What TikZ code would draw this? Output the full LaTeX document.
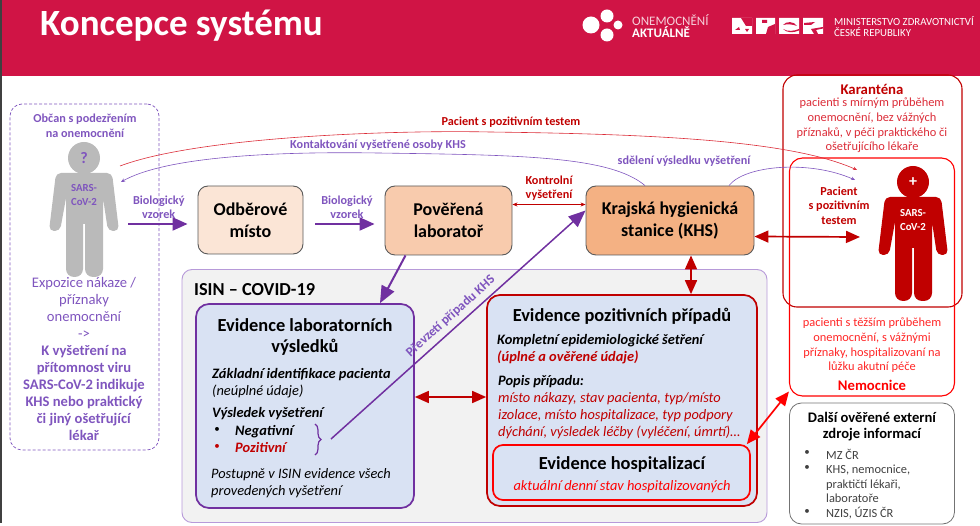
\documentclass[tikz,border=0pt]{standalone}
\usepackage{fontspec}
\setmainfont{Carlito}
\usetikzlibrary{arrows.meta,decorations.pathreplacing}
\definecolor{hdrred}{HTML}{D01445}
\definecolor{purp}{HTML}{7030A0}
\definecolor{softpurp}{HTML}{7F55BE}
\definecolor{lavender}{HTML}{B79AD9}
\definecolor{dkred}{HTML}{C00000}
\definecolor{softred}{HTML}{DB2C38}
\definecolor{brightred}{HTML}{FF0000}
\definecolor{labblue}{HTML}{D9E2F3}
\tikzset{
  person/.pic={
    \fill (0,0) circle (16);
    \fill[rounded corners=5pt] (-18,40) -- (-24,73) -- (-35,73) -- (-28,15) -- (28,15) -- (35,73) -- (24,73) -- (19,40)
      [rounded corners=8pt] -- (19,119) -- (1,119) [sharp corners] -- (1,66) -- (-1,66) [rounded corners=8pt] -- (-1,119) -- (-18,119) [sharp corners] -- cycle;
  }
}
\begin{document}
\begin{tikzpicture}[x=1pt, y=-1pt,
  block/.style={draw=black!65, line width=0.9pt, rounded corners=10pt, align=center, inner sep=0pt, font=\fontsize{18}{21.7}\selectfont\bfseries},
  evbox/.style={fill=labblue, line width=1.7pt, rounded corners=13pt, inner sep=0pt},
  head/.style={font=\fontsize{18.4}{21.5}\selectfont\bfseries, align=center},
  note/.style={font=\fontsize{12.2}{14.7}\selectfont\bfseries, align=center, inner sep=0pt},
  plain/.style={font=\fontsize{14.4}{17}\selectfont\itshape, align=left, anchor=west, inner sep=0pt},
  side/.style={font=\fontsize{12.4}{14.6}\selectfont, align=center, inner sep=0pt},
  dot/.style={font=\fontsize{11}{11}\selectfont, inner sep=0pt},
  bigpurp/.style={-{Triangle[length=15pt,width=13pt]}, line width=2pt, color=purp},
  bigred/.style={{Triangle[length=14pt,width=12pt]}-{Triangle[length=14pt,width=12pt]}, line width=1.7pt, color=dkred},
  thincurve/.style={-{Stealth[length=4pt,width=3.5pt]}, line width=0.6pt}]

  \useasboundingbox (0,0) rectangle (980,526);

  % Header
  \fill[black!75] (0,0) rectangle (1.5,523);
  \fill[hdrred] (1.5,0) rectangle (980,76.5);
  \node[white, anchor=west, inner sep=0pt, font=\fontsize{37}{40}\selectfont\bfseries] (title) at (40,26) {Koncepce systému};

  % Logos
  \fill[white] (591,25) circle (8.5) (607,16) circle (6.5) (618,25) circle (4.5) (607,35) circle (6.5);
  \node[white, anchor=west, align=left, font=\fontsize{13}{12}\selectfont, inner sep=0pt] (oa) at (632,26) {\textcolor{white!80!hdrred}{ONEMOCNĚNÍ}\\\textbf{AKTUÁLNĚ}};
  \fill[white] (732,18) rectangle (752,34) (756,18) rectangle (775,34) (779,18) rectangle (799,34) (803,18) rectangle (823,34);
  \fill[hdrred] (741,18) -- (752,18) -- (752,26) -- (746,26) -- cycle (735,30) -- (739,27) -- (740,30) -- cycle (745,29) -- (749,29) -- (747,32) -- cycle;
  \fill[hdrred] (766,34) -- (768,27) -- (775,24) -- (775,34) -- cycle (762,20) rectangle (767,23);
  \fill[hdrred] (783,25) .. controls (786,21) and (794,21) .. (797,26) .. controls (792,24) and (787,24) .. (783,25) -- cycle (783,29) .. controls (788,32) and (794,31) .. (799,29) -- (799,30.5) .. controls (793,33) and (787,33) .. (783,29) -- cycle;
  \fill[hdrred] (804,23) -- (815,22) -- (811,25) -- (804,25) -- cycle (811,29) -- (823,27) -- (823,28.5) -- (816,30) -- (818,34) -- (814,34) -- cycle;
  \node[white, anchor=west, align=left, font=\fontsize{10.8}{11}\selectfont, inner sep=0pt] (mz) at (834,26.5) {MINISTERSTVO ZDRAVOTNICTVÍ\\ČESKÉ REPUBLIKY};

  % ISIN frame
  \node[draw=lavender, fill=black!5, line width=0.9pt, rounded corners=10pt, minimum width=585pt, minimum height=253pt, inner sep=0pt] (isin) at (474.5,396) {};
  \node[anchor=west, inner sep=0pt, font=\fontsize{18.3}{20}\selectfont\bfseries] (isintitle) at (194,290) {ISIN – COVID-19};

  % Citizen
  \node[draw=softpurp, densely dashed, line width=0.7pt, rounded corners=12pt, minimum width=149pt, minimum height=346pt] (citizen) at (84.5,277) {};
  \node[note, softpurp] (citizentxt) at (85,125.5) {Občan s podezřením\\na onemocnění};
  \pic[black!27] at (84,158) {person};
  \node[softpurp, font=\fontsize{16}{16}\selectfont\bfseries] (qmark) at (84,158) {?};
  \node[softpurp, font=\fontsize{10.8}{14}\selectfont\bfseries, align=center] (sarsA) at (84,195) {SARS-\\CoV-2};
  \node[softpurp, align=center, font=\fontsize{14.6}{16.9}\selectfont] (citizenlow) at (84,359) {Expozice nákaze /\\příznaky\\onemocnění\\->\\\textbf{K vyšetření na}\\\textbf{přítomnost viru}\\\textbf{SARS-CoV-2 indikuje}\\\textbf{KHS nebo praktický}\\\textbf{či jiný ošetřující}\\\textbf{lékař}};

  % First row
  \node[block, fill={rgb,255:red,251;green,229;blue,214}, minimum width=105pt, minimum height=68pt] (odber) at (250.5,220) {Odběrové\\místo};
  \node[block, fill={rgb,255:red,248;green,203;blue,173}, minimum width=127pt, minimum height=69pt] (lab) at (448.5,220.5) {Pověřená\\laboratoř};
  \node[block, fill={rgb,255:red,244;green,177;blue,131}, minimum width=168pt, minimum height=69pt] (khs) at (670,220.5) {Krajská hygienická\\stanice (KHS)};

  % Evidence boxes
  \node[evbox, draw=purp, minimum width=218pt, minimum height=204pt] (labev) at (305,406) {};
  \node[evbox, draw=dkred, minimum width=270pt, minimum height=211pt] (posev) at (622,400.5) {};
  \node[evbox, draw=brightred, minimum width=257pt, minimum height=55pt, rounded corners=10pt] (hosp) at (621.5,472.5) {};

  % Lab evidence text
  \node[head] (labtitle) at (305,337) {Evidence laboratorních\\výsledků};
  \node[plain] (labid) at (212,383) {\textbf{Základní identifikace pacienta}\\(neúplné údaje)};
  \node[plain] (labres) at (212,413.5) {\textbf{Výsledek vyšetření}};
  \node[dot] (dotA) at (217,430) {•};
  \node[plain] (neg) at (235,431.5) {\textbf{Negativní}};
  \node[dot, dkred] (dotB) at (217,447) {•};
  \node[plain, dkred] (pos) at (235,447.5) {\textbf{Pozitivní}};
  \node[plain] (labsum) at (211,483) {Postupně v ISIN evidence všech\\provedených vyšetření};

  % Positive evidence text
  \node[head] (postitle) at (622,316) {Evidence pozitivních případů};
  \node[plain] (posid) at (497,349) {\textbf{Kompletní epidemiologické šetření}\\\textcolor{dkred}{\textbf{(úplné a ověřené údaje)}}};
  \node[plain] (posdesc) at (498,407) {\textbf{Popis případu:}\\\textcolor{dkred}{místo nákazy, stav pacienta, typ/místo}\\\textcolor{dkred}{izolace, místo hospitalizace, typ podpory}\\\textcolor{dkred}{dýchání, výsledek léčby (vyléčení, úmrtí)…}};
  \node[head] (hosptitle) at (622,464.5) {Evidence hospitalizací};
  \node[plain, anchor=center, brightred] (hosptxt) at (622,486.5) {aktuální denní stav hospitalizovaných};

  % Right side
  \node[draw=dkred, line width=1.1pt, rounded corners=14pt, minimum width=179pt, minimum height=232pt] (karant) at (872.5,191) {};
  \node[draw=brightred, line width=1.1pt, rounded corners=13pt, minimum width=165pt, minimum height=238pt] (nem) at (872,277) {};
  \node[dkred, font=\fontsize{14.8}{15}\selectfont\bfseries] (karanttitle) at (872,89) {Karanténa};
  \node[side, softred] (karanttxt) at (872,125.5) {pacienti s mírným průběhem\\onemocnění, bez vážných\\příznaků, v péči praktického či\\ošetřujícího lékaře};
  \node[note, dkred] (pacient) at (839,205.5) {Pacient\\s pozitivním\\testem};
  \pic[dkred] at (913,182) {person};
  \node[white, font=\fontsize{16}{16}\selectfont\bfseries] (plus) at (913,182) {+};
  \node[white, font=\fontsize{10.8}{14}\selectfont\bfseries, align=center] (sarsB) at (913,220) {SARS-\\CoV-2};
  \node[side, brightred!85!white] (nemtxt) at (872,345.5) {pacienti s těžším průběhem\\onemocnění, s vážnými\\příznaky, hospitalizovaní na\\lůžku akutní péče};
  \node[brightred, font=\fontsize{14.7}{15}\selectfont\bfseries] (nemtitle) at (872,385) {Nemocnice};

  % External sources
  \node[draw=black!55, line width=0.8pt, rounded corners=12pt, minimum width=165pt, minimum height=121pt] (ext) at (872,463.5) {};
  \node[font=\fontsize{14.6}{16}\selectfont\bfseries, align=center, inner sep=0pt] (exttitle) at (872,427) {Další ověřené externí\\zdroje informací};
  \node[black!75, anchor=west, align=left, font=\fontsize{12.4}{14.5}\selectfont, inner sep=0pt] (extlist) at (826,484) {MZ ČR\\KHS, nemocnice,\\praktičtí lékaři,\\laboratoře\\NZIS, ÚZIS ČR};
  \node[dot, black!75] (extA) at (807,453) {•};
  \node[dot, black!75] (extB) at (807,468) {•};
  \node[dot, black!75] (extC) at (807,512) {•};

  % Free ends
  \coordinate (grayredend) at (120,166);
  \coordinate (graypurpend) at (121,182);
  \coordinate (redtip) at (857,170);
  \coordinate (purptip) at (855,180);
  \coordinate (grayarm) at (128,224);
  \coordinate (redarm) at (860,237);
  \coordinate (brtop) at (315,424);
  \coordinate (brbot) at (315,455);
  \coordinate (brmid) at (331,439);

  % Purple arrows
  \draw[bigpurp, shorten >=10pt] (grayarm) -- (grayarm -| odber.west) node[midway, note, above=4pt, xshift=-4pt, text=softpurp] (bioA) {Biologický\\vzorek};
  \draw[bigpurp, shorten >=10pt] ([xshift=12pt,yshift=-4pt]odber.east) -- ([yshift=-3.5pt]lab.west) node[midway, note, above=4pt, xshift=-3pt, text=softpurp] (bioB) {Biologický\\vzorek};
  \draw[bigpurp, -{Triangle[length=17pt,width=14pt]}] ([xshift=-43pt]lab.south) -- ([xshift=75pt]labev.north);
  \draw[bigpurp, -{Triangle[length=17pt,width=14pt]}, line width=1.5pt] (brmid) -- ([yshift=10pt]khs.west) node[midway, sloped, above=4pt, text=softpurp, font=\fontsize{13.2}{14}\selectfont\bfseries, inner sep=1pt] (prevzeti) {Převzetí případu KHS};
  \draw[purp, line width=1.2pt, decorate, decoration={brace, amplitude=6pt}] (brtop) -- (brbot);

  % Red arrows
  \draw[{Stealth[length=5pt,width=4pt]}-{Stealth[length=5pt,width=4pt]}, dkred, line width=0.6pt] ([yshift=16pt]lab.east) -- ([yshift=16pt]khs.west) node[midway, note, above=3.5pt, text=dkred] (kontrol) {Kontrolní\\vyšetření};
  \draw[bigred] ([yshift=-16pt]khs.east) -- (redarm);
  \draw[bigred] ([xshift=21pt]khs.south) -- ([xshift=69pt]posev.north);
  \draw[bigred] ([yshift=9pt]labev.east) -- ([yshift=3.5pt]posev.west);
  \draw[bigred, color=brightred] ([xshift=-4pt]hosp.north east) -- ([yshift=5pt]nem.south west);

  % Curves
  \draw[thincurve, softred] (grayredend) .. controls (200,136) and (400,130) .. (490,132) .. controls (650,134) and (790,140) .. (redtip);
  \draw[thincurve, softpurp] ([xshift=-25pt]khs.north) .. controls (610,156) and (520,155) .. (378,153) .. controls (250,151) and (160,160) .. (graypurpend);
  \draw[thincurve, softpurp] ([xshift=59pt]khs.north) .. controls (745,165) and (810,160) .. (purptip);
  \node[note, dkred] (pacienttxt) at (511,122) {Pacient s pozitivním testem};
  \node[note, softpurp] (kontakt) at (378,145) {Kontaktování vyšetřené osoby KHS};
  \node[note, softpurp] (sdeleni) at (684,161) {sdělení výsledku vyšetření};

\end{tikzpicture}
\end{document}
